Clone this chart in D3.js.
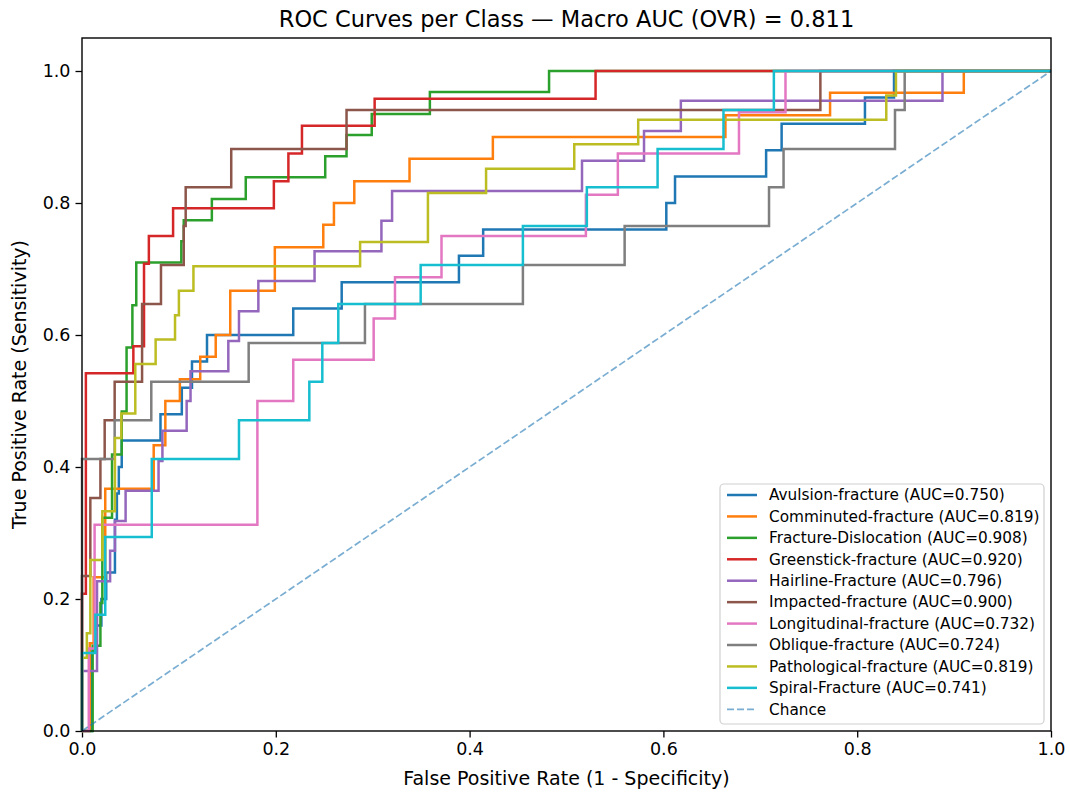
<!DOCTYPE html>
<html>
<head>
<meta charset="utf-8">
<script src="https://cdn.jsdelivr.net/npm/d3@7"></script>
<style>
  body { margin: 0; background: #fff; }
  text { font-family: "DejaVu Sans", sans-serif; fill: #000; }
</style>
</head>
<body>
<script>
const classNames = [
    'Avulsion-fracture', 'Comminuted-fracture', 'Fracture-Dislocation', 'Greenstick-fracture',
    'Hairline-Fracture', 'Impacted-fracture', 'Longitudinal-fracture', 'Oblique-fracture',
    'Pathological-fracture', 'Spiral-Fracture'
];
const aucValues = [0.750, 0.819, 0.908, 0.920, 0.796, 0.900, 0.732, 0.724, 0.819, 0.741];
const macroAuc = 0.811;
const colors = ['#1f77b4', '#ff7f0e', '#2ca02c', '#d62728', '#9467bd', '#8c564b', '#e377c2', '#7f7f7f', '#bcbd22', '#17becf'];

// each point is the top of a vertical step (drawn with curveStepAfter)
const fprByClass = [
    [0, 0.010, 0.014, 0.020, 0.025, 0.034, 0.036, 0.038, 0.041, 0.081, 0.103, 0.1135, 0.129, 0.218, 0.268, 0.389, 0.414, 0.603, 0.612, 0.706, 0.722, 0.808, 0.838, 1],
    [0, 0.008, 0.012, 0.024, 0.074, 0.086, 0.101, 0.122, 0.138, 0.153, 0.199, 0.249, 0.260, 0.281, 0.338, 0.424, 0.664, 0.772, 0.910, 1],
    [0, 0.011, 0.019, 0.021, 0.031, 0.041, 0.046, 0.052, 0.056, 0.1025, 0.105, 0.134, 0.169, 0.251, 0.273, 0.299, 0.359, 0.482, 1],
    [0, 0, 0.004, 0.053, 0.064, 0.069, 0.094, 0.198, 0.213, 0.227, 0.302, 0.530, 1],
    [0, 0, 0.0155, 0.029, 0.034, 0.045, 0.079, 0.083, 0.108, 0.112, 0.151, 0.162, 0.182, 0.240, 0.309, 0.320, 0.516, 0.580, 0.618, 0.888, 1],
    [0, 0, 0.0086, 0.019, 0.0234, 0.0337, 0.062, 0.0815, 0.105, 0.107, 0.154, 0.273, 0.762, 1],
    [0, 0.007, 0.013, 0.181, 0.218, 0.301, 0.323, 0.371, 0.520, 0.553, 0.678, 0.726, 1],
    [0, 0, 0.0337, 0.0715, 0.172, 0.292, 0.455, 0.560, 0.709, 0.724, 0.839, 0.849, 1],
    [0, 0, 0.005, 0.0086, 0.021, 0.034, 0.0406, 0.055, 0.076, 0.096, 0.100, 0.115, 0.287, 0.357, 0.417, 0.508, 0.574, 0.830, 0.840, 1],
    [0, 0, 0.0138, 0.024, 0.072, 0.162, 0.2346, 0.248, 0.2645, 0.3495, 0.455, 0.521, 0.594, 0.662, 0.714, 1]
];
const tprByClass = [
    [0, 0.12, 0.16, 0.20, 0.24, 0.32, 0.36, 0.40, 0.44, 0.48, 0.52, 0.56, 0.60, 0.64, 0.68, 0.72, 0.76, 0.80, 0.84, 0.88, 0.92, 0.96, 1, 1],
    [0, 0.133, 0.233, 0.367, 0.433, 0.5, 0.533, 0.567, 0.6, 0.667, 0.733, 0.767, 0.8, 0.833, 0.867, 0.9, 0.933, 0.967, 1, 1],
    [0, 0.129, 0.194, 0.323, 0.419, 0.484, 0.581, 0.645, 0.710, 0.742, 0.774, 0.806, 0.839, 0.871, 0.903, 0.935, 0.968, 1, 1],
    [0, 0.208, 0.542, 0.583, 0.708, 0.75, 0.792, 0.833, 0.875, 0.917, 0.958, 1, 1],
    [0, 0.091, 0.227, 0.273, 0.318, 0.364, 0.409, 0.455, 0.5, 0.545, 0.591, 0.636, 0.682, 0.727, 0.773, 0.818, 0.864, 0.909, 0.955, 1, 1],
    [0, 0.235, 0.353, 0.412, 0.471, 0.529, 0.647, 0.706, 0.765, 0.824, 0.882, 0.941, 1, 1],
    [0, 0.125, 0.3125, 0.5, 0.5625, 0.625, 0.6875, 0.75, 0.8125, 0.875, 0.9375, 1, 1],
    [0, 0.412, 0.471, 0.529, 0.588, 0.647, 0.706, 0.765, 0.824, 0.882, 0.941, 1, 1],
    [0, 0.111, 0.148, 0.259, 0.333, 0.444, 0.481, 0.556, 0.593, 0.630, 0.667, 0.704, 0.741, 0.815, 0.852, 0.889, 0.926, 0.963, 1, 1],
    [0, 0.118, 0.176, 0.294, 0.412, 0.471, 0.529, 0.588, 0.647, 0.706, 0.765, 0.824, 0.882, 0.941, 1, 1]
];
const chanceLine = [[0, 0], [1, 1]];
const tickValues = [0, 0.2, 0.4, 0.6, 0.8, 1.0];

const svgWidth = 1070;
const svgHeight = 792;
const margin = { left: 82, right: 19, top: 38, bottom: 61 };
const width = svgWidth - margin.left - margin.right;
const height = svgHeight - margin.top - margin.bottom;

const svg = d3.select('body')
    .append('svg')
    .attr('width', svgWidth)
    .attr('height', svgHeight);

const x = d3.scaleLinear().domain([0, 1]).range([margin.left, margin.left + width]);
const y = d3.scaleLinear().domain([0, 1.05]).range([margin.top + height, margin.top]);

// title
svg.append('text')
    .attr('x', margin.left + width / 2)
    .attr('y', 27)
    .attr('text-anchor', 'middle')
    .style('font-size', '22.5px')
    .text(`ROC Curves per Class — Macro AUC (OVR) = ${macroAuc.toFixed(3)}`);

// axes
const xAxis = svg.append('g')
    .attr('transform', `translate(0, ${margin.top + height})`)
    .call(d3.axisBottom(x).tickValues(tickValues).tickFormat(d3.format('.1f')).tickSize(6.5).tickPadding(5));
const yAxis = svg.append('g')
    .attr('transform', `translate(${margin.left}, 0)`)
    .call(d3.axisLeft(y).tickValues(tickValues).tickFormat(d3.format('.1f')).tickSize(6.5).tickPadding(5));
[xAxis, yAxis].forEach((g) => {
    g.select('.domain').remove();
    g.selectAll('line').attr('stroke', '#000').attr('stroke-width', 1.3);
    g.selectAll('text').style('font-size', '17.5px').attr('font-family', 'DejaVu Sans');
});

svg.append('text')
    .attr('x', margin.left + width / 2)
    .attr('y', 785)
    .attr('text-anchor', 'middle')
    .style('font-size', '19px')
    .text('False Positive Rate (1 - Specificity)');

svg.append('text')
    .attr('transform', `translate(26, ${margin.top + height / 2}) rotate(-90)`)
    .attr('text-anchor', 'middle')
    .style('font-size', '19px')
    .text('True Positive Rate (Sensitivity)');

// curves
const line = d3.line()
    .x((d) => x(d[0]))
    .y((d) => y(d[1]))
    .curve(d3.curveStepAfter);

const curves = classNames.map((name, i) => ({
    name,
    auc: aucValues[i],
    color: colors[i],
    points: fprByClass[i].map((f, j) => [f, tprByClass[i][j]])
}));

svg.append('g')
    .selectAll('path')
    .data(curves).enter()
    .append('path')
    .attr('d', (d) => line(d.points))
    .attr('fill', 'none')
    .attr('stroke', (d) => d.color)
    .attr('stroke-width', 2.5)
    .attr('stroke-linejoin', 'miter');

svg.append('path')
    .attr('d', d3.line().x((d) => x(d[0])).y((d) => y(d[1]))(chanceLine))
    .attr('fill', 'none')
    .attr('stroke', '#1f77b4')
    .attr('stroke-opacity', 0.6)
    .attr('stroke-width', 1.7)
    .attr('stroke-dasharray', '7,3');

// frame
svg.append('rect')
    .attr('x', margin.left)
    .attr('y', margin.top)
    .attr('width', width)
    .attr('height', height)
    .attr('fill', 'none')
    .attr('stroke', '#000')
    .attr('stroke-width', 1.4);

// legend
const legendItems = curves.map((d) => ({ label: `${d.name} (AUC=${d.auc.toFixed(3)})`, color: d.color, dash: null }))
    .concat([{ label: 'Chance', color: '#1f77b4', dash: '7,3' }]);

const legend = svg.append('g');
legend.append('rect')
    .attr('x', 720)
    .attr('y', 484)
    .attr('width', 324)
    .attr('height', 240)
    .attr('rx', 4)
    .attr('fill', '#fff')
    .attr('fill-opacity', 0.8)
    .attr('stroke', '#d0d0d0')
    .attr('stroke-width', 1.2);

const rowStep = 21.43;
const items = legend.selectAll('g.item')
    .data(legendItems).enter()
    .append('g')
    .attr('class', 'item')
    .attr('transform', (d, i) => `translate(0, ${495 + i * rowStep})`);

items.append('line')
    .attr('x1', 727)
    .attr('x2', 757)
    .attr('stroke', (d) => d.color)
    .attr('stroke-width', (d) => d.dash ? 1.7 : 2.5)
    .attr('stroke-opacity', (d) => d.dash ? 0.6 : 1)
    .attr('stroke-dasharray', (d) => d.dash);

items.append('text')
    .attr('x', 769)
    .attr('y', 5.3)
    .style('font-size', '15.3px')
    .text((d) => d.label);
</script>
</body>
</html>
